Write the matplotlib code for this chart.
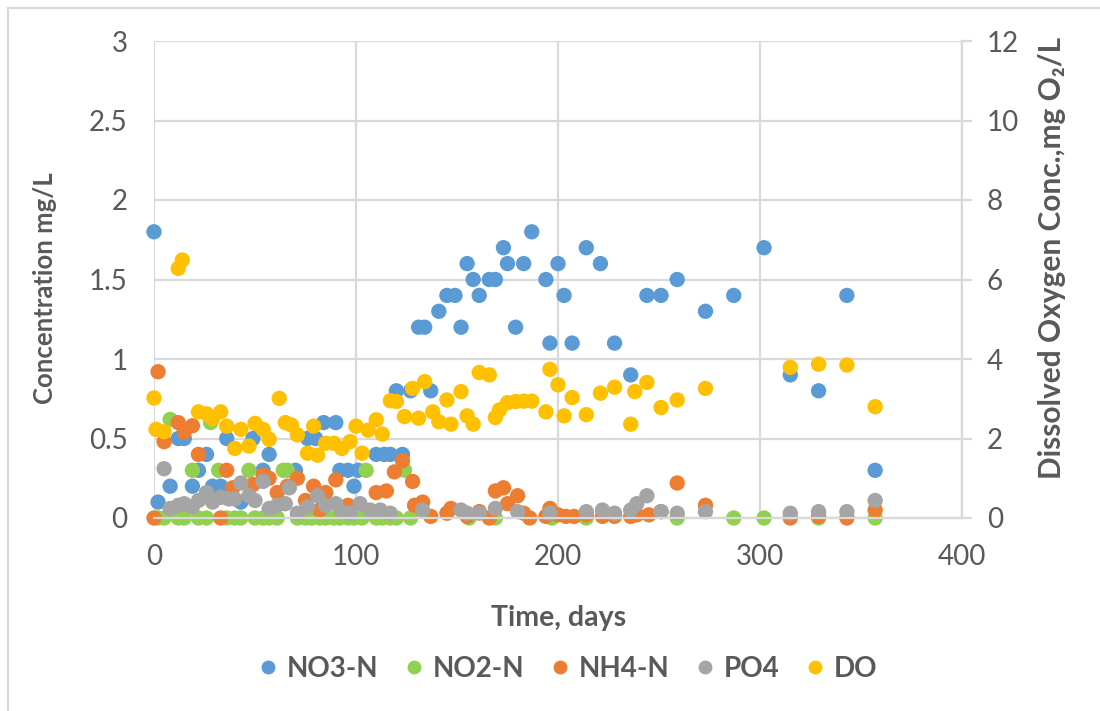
import matplotlib
matplotlib.use("Agg")
import matplotlib.pyplot as plt
from matplotlib.lines import Line2D

plt.rcParams['font.family'] = ['Lato', 'DejaVu Sans']

# ---------------- data ----------------
no3_days = [0, 2, 8, 12, 15, 19, 22, 26, 29, 33, 36, 43, 49, 54, 57, 70, 76, 80, 84, 90,
            92, 96, 99, 101, 110, 114, 117, 120, 123, 127, 131, 134, 137, 141, 145, 149,
            152, 155, 158, 161, 166, 169, 173, 175, 179, 183, 187, 194, 196, 200, 203, 207,
            214, 221, 228, 236, 244, 251, 259, 273, 287, 302, 315, 329, 343, 357]
no3_vals = [1.8, 0.1, 0.2, 0.5, 0.5, 0.2, 0.3, 0.4, 0.2, 0.2, 0.5, 0.1, 0.5, 0.3, 0.4, 0.3,
            0.5, 0.5, 0.6, 0.6, 0.3, 0.3, 0.2, 0.3, 0.4, 0.4, 0.4, 0.8, 0.4, 0.8, 1.2, 1.2,
            0.8, 1.3, 1.4, 1.4, 1.2, 1.6, 1.5, 1.4, 1.5, 1.5, 1.7, 1.6, 1.2, 1.6, 1.8, 1.5,
            1.1, 1.6, 1.4, 1.1, 1.7, 1.6, 1.1, 0.9, 1.4, 1.4, 1.5, 1.3, 1.4, 1.7, 0.9, 0.8,
            1.4, 0.3]

no2_days = [2, 5, 8, 12, 15, 19, 22, 26, 28, 32, 36, 40, 43, 47, 50, 54, 57, 61, 64, 66,
            71, 75, 78, 82, 85, 89, 92, 96, 99, 103, 105, 110, 113, 117, 120, 124, 127,
            156, 169, 197, 214, 259, 287, 302, 329, 357]
no2_vals = [0, 0, 0.62, 0, 0, 0.3, 0, 0, 0.6, 0.3, 0, 0, 0, 0.3, 0, 0, 0, 0, 0.3, 0.3,
            0, 0, 0, 0, 0, 0, 0, 0, 0, 0, 0.3, 0, 0, 0, 0, 0.3, 0,
            0, 0, 0, 0, 0, 0, 0, 0, 0]

nh4_days = [0, 2, 5, 12, 15, 19, 22, 33, 36, 39, 49, 54, 57, 61, 66, 71, 75, 79, 82, 85,
            90, 96, 110, 115, 119, 123, 128, 129, 133, 137, 145, 147, 155, 161, 166, 169,
            173, 175, 180, 183, 186, 194, 196, 200, 204, 208, 214, 222, 228, 236, 239, 245,
            251, 259, 273, 315, 329, 343, 357]
nh4_vals = [0, 0.92, 0.48, 0.6, 0.54, 0.58, 0.4, 0, 0.3, 0.19, 0.21, 0.27, 0.25, 0.16,
            0.2, 0.25, 0.11, 0.2, 0.05, 0.16, 0.24, 0.08, 0.16, 0.17, 0.29, 0.36, 0.23,
            0.08, 0.1, 0.01, 0.03, 0.06, 0.01, 0.04, 0, 0.17, 0.19, 0.09, 0.14, 0.03, 0,
            0.01, 0.06, 0.02, 0.01, 0.01, 0.02, 0.01, 0.01, 0.01, 0.02, 0.02, 0.04, 0.22,
            0.08, 0, 0.01, 0, 0.05]

po4_days = [5, 8, 12, 15, 19, 22, 26, 29, 33, 37, 40, 43, 47, 50, 54, 57, 61, 65, 67, 71,
            76, 81, 85, 90, 93, 97, 102, 107, 112, 117, 133, 152, 155, 161, 169, 180, 196,
            214, 222, 228, 236, 239, 244, 251, 259, 273, 315, 329, 343, 357]
po4_vals = [0.31, 0.06, 0.08, 0.09, 0.07, 0.11, 0.16, 0.1, 0.13, 0.12, 0.12, 0.22, 0.14,
            0.11, 0.23, 0.06, 0.08, 0.09, 0.19, 0.03, 0.07, 0.14, 0.08, 0.09, 0.04, 0.03,
            0.09, 0.05, 0.05, 0.03, 0.05, 0.05, 0.03, 0.03, 0.06, 0.04, 0.03, 0.04, 0.05,
            0.03, 0.05, 0.09, 0.14, 0.04, 0.03, 0.04, 0.03, 0.04, 0.04, 0.11]

do_days = [0, 1, 5, 12, 14, 22, 26, 29, 33, 36, 40, 43, 47, 50, 54, 57, 62, 65, 68, 71,
           76, 79, 81, 85, 89, 93, 97, 100, 103, 106, 110, 113, 117, 120, 124, 128, 131,
           134, 138, 141, 145, 147, 152, 155, 158, 161, 166, 169, 171, 175, 179, 183, 187,
           194, 196, 200, 203, 207, 214, 221, 228, 236, 238, 244, 251, 259, 273, 315, 329,
           343, 357]
do_vals = [3.02, 2.23, 2.17, 6.28, 6.49, 2.67, 2.62, 2.5, 2.67, 2.31, 1.75, 2.23, 1.81,
           2.38, 2.23, 1.98, 3.01, 2.4, 2.34, 2.09, 1.63, 2.31, 1.58, 1.88, 1.88, 1.75,
           1.92, 2.31, 1.63, 2.21, 2.47, 2.11, 2.95, 2.93, 2.55, 3.26, 2.51, 3.43, 2.67,
           2.42, 2.97, 2.36, 3.18, 2.57, 2.36, 3.66, 3.6, 2.53, 2.72, 2.9, 2.93, 2.94,
           2.94, 2.67, 3.74, 3.35, 2.57, 3.03, 2.6, 3.14, 3.29, 2.36, 3.18, 3.41, 2.78,
           2.97, 3.26, 3.79, 3.87, 3.85, 2.8]

series_names = ["NO3-N", "NO2-N", "NH4-N", "PO4", "DO"]
colors = ["#5B9BD5", "#92D050", "#ED7D31", "#A5A5A5", "#FFC000"]

x_ticks = [0, 100, 200, 300, 400]
y_ticks = [0, 0.5, 1, 1.5, 2, 2.5, 3]
y_tick_labels = ["0", "0.5", "1", "1.5", "2", "2.5", "3"]
y2_ticks = [0, 2, 4, 6, 8, 10, 12]

# ---------------- figure ----------------
W, H = 1100, 711
fig = plt.figure(figsize=(W / 100, H / 100), dpi=100)
ax = fig.add_axes([154 / W, 1 - 518 / H, (962 - 154) / W, (518 - 41) / H])
ax2 = ax.twinx()

txt = "#595959"
grid = "#D9D9D9"
ms = 122

prim = [(no3_days, no3_vals), (no2_days, no2_vals), (nh4_days, nh4_vals), (po4_days, po4_vals)]
for (d, v), c in zip(prim, colors[:4]):
    ax.scatter(d, v, s=ms, color=c, edgecolors='none', clip_on=False, zorder=3)
ax2.scatter(do_days, do_vals, s=ms, color=colors[4], edgecolors='none', clip_on=False, zorder=3)

ax.set_xlim(0, 400)
ax.set_ylim(0, 3)
ax2.set_ylim(0, 12)
ax.set_xticks(x_ticks)
ax.set_yticks(y_ticks)
ax.set_yticklabels(y_tick_labels)
ax2.set_yticks(y2_ticks)

ax.grid(True, color=grid, linewidth=1.6, zorder=0)
ax.set_axisbelow(True)
for a in (ax, ax2):
    for s in ('top', 'left'):
        a.spines[s].set_visible(False)
    a.spines['bottom'].set_color(grid)
    a.spines['bottom'].set_linewidth(1.6)
    a.spines['right'].set_visible(False)
ax2.spines['right'].set_visible(True)
ax2.spines['right'].set_color(grid)
ax2.spines['right'].set_linewidth(1.6)

ax.tick_params(axis='both', length=0, labelsize=20, labelcolor=txt)
ax.tick_params(axis='y', pad=19)
ax.tick_params(axis='x', pad=19)
ax2.tick_params(axis='y', length=7, width=1.6, color=grid, direction='out',
                labelsize=20, labelcolor=txt, pad=11)

fig.text(45 / W, 1 - 288 / H, "Concentration mg/L", rotation=90, ha='center', va='center',
         fontsize=18.5, fontweight='bold', color=txt)
fig.text(1052 / W, 1 - 258 / H, "Dissolved Oxygen Conc.,mg O\u2082/L", rotation=90,
         ha='center', va='center', fontsize=21.5, fontweight='bold', color=txt,
         family=['Lato', 'DejaVu Sans'])
fig.text(559 / W, 1 - 618 / H, "Time, days", ha='center', va='center',
         fontsize=20.5, fontweight='bold', color=txt)

handles = [Line2D([], [], marker='o', linestyle='none', markersize=10, color=c,
                  markeredgewidth=0) for c in colors]
leg = fig.legend(handles, series_names, loc='center left', bbox_to_anchor=(260 / W, 1 - 669 / H),
                 ncol=5, frameon=False, handletextpad=0.37, columnspacing=0.98,
                 handlelength=0.6, borderpad=0, borderaxespad=0,
                 prop={'size': 20, 'weight': 'bold'})
for t in leg.get_texts():
    t.set_color(txt)

# chart border
fig.add_artist(Line2D([8 / W, 8 / W], [0, 1 - 8 / H], transform=fig.transFigure,
                      color=grid, linewidth=1.5))
fig.add_artist(Line2D([8 / W, 1], [1 - 8 / H, 1 - 8 / H], transform=fig.transFigure,
                      color=grid, linewidth=1.5))

fig.savefig("out.png", dpi=100, facecolor='white')
